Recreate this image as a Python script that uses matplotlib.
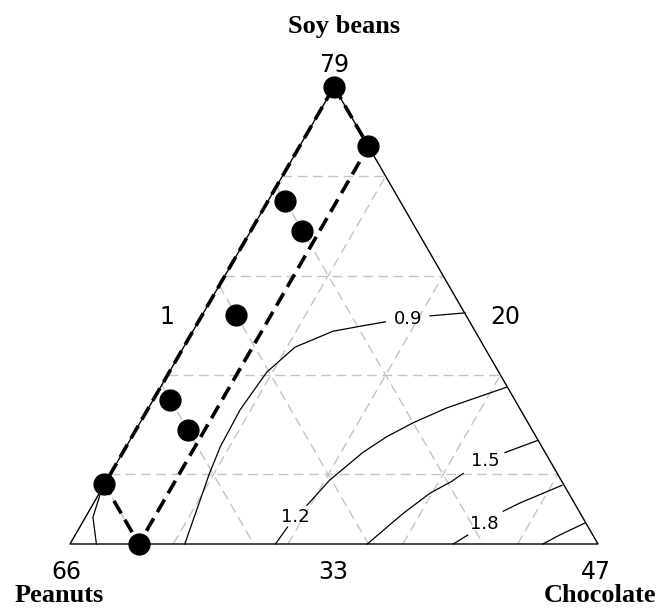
import numpy as np
import matplotlib.pyplot as plt

# Mixture: Soy beans + Peanuts + Chocolate = 100, each with a range of 46
soy_low, peanut_low, choc_low = 33, 20, 1
span = 46

# Design points (real units)
soy = [79, 73, 67.5, 64.5, 56, 47.5, 44.5, 39, 33]
peanuts = [20, 20, 30, 30, 40, 50, 50, 60, 60]
chocolate = [1, 7, 2.5, 5.5, 4, 2.5, 5.5, 1, 7]

# Constraint region corners (chocolate between 1 and 7)
region_soy = [79, 73, 33, 39, 79]
region_choc = [1, 7, 7, 1, 1]

# Grid levels
soy_grid = [40, 50, 60, 70]
peanut_grid = [30, 40, 50, 60]
choc_grid = [10, 20, 30, 40]

# Contour lines: (soy, chocolate) pairs, split at the label
contour_09 = [[(56.25, 23.8), (55.95, 20.9)],
              [(55.35, 17.3), (54.9, 15.3), (54.4, 13.2), (52.8, 10.7), (50.3, 9.5),
               (46.5, 9.07), (42.8, 9.2), (40.1, 9.6), (33, 11.0)]]
contour_12 = [[(48.8, 31.2), (46.7, 27.0), (45.2, 24.8), (43.8, 23.2), (42.2, 21.9),
               (39.4, 20.4), (36.9, 19.7)],
              [(34.7, 19.1), (33, 18.9)]]
contour_15 = [[(43.4, 36.5), (42.2, 34.3)],
              [(40.1, 31.7), (39.3, 31.1), (38.1, 29.8), (36.1, 28.5), (33, 26.9)]]
contour_18 = [[(38.9, 40.9), (37.1, 38.1), (36.3, 37.1)],
              [(33.9, 35.2), (33, 34.4)]]
contour_21 = [[(35.1, 44.8), (33.9, 43.2), (33, 42.2)]]
contour_corner = [[(37.9, 1.15), (35.7, 1.65), (33, 3.3)]]

contours = [contour_09, contour_12, contour_15, contour_18, contour_21, contour_corner]
contour_labels = ['0.9', '1.2', '1.5', '1.8']
label_soy = [55.6, 35.7, 41.4, 35.0]
label_choc = [19.2, 19.3, 33.0, 36.1]


def to_xy(s_real, c_real):
    s = (np.asarray(s_real, dtype=float) - soy_low) / span
    c = (np.asarray(c_real, dtype=float) - choc_low) / span
    return c + s / 2, s * np.sqrt(3) / 2


fig = plt.figure(figsize=(6.59, 6.10), dpi=100)
ax = fig.add_axes([0, 0, 1, 1])
ax.set_xlim(-70 / 528, 589 / 528)
ax.set_ylim(-66 / 528, 544 / 528)
ax.axis('off')

grid_kw = dict(color='#c4c4c4', lw=1.0, dashes=(7, 4), zorder=1)
top = 100 - peanut_low - choc_low
for v in soy_grid:
    x, y = to_xy([v, v], [choc_low, 100 - v - peanut_low])
    ax.plot(x, y, **grid_kw)
for v in choc_grid:
    x, y = to_xy([soy_low, 100 - v - peanut_low], [v, v])
    ax.plot(x, y, **grid_kw)
for v in peanut_grid:
    x, y = to_xy([100 - v - choc_low, soy_low], [choc_low, 100 - v - soy_low])
    ax.plot(x, y, **grid_kw)

# triangle outline
tx, ty = to_xy([top, soy_low, soy_low, top], [choc_low, choc_low, 100 - soy_low - peanut_low, choc_low])
ax.plot(tx, ty, color='black', lw=1.0, zorder=2)

# contours
for c in contours:
    for piece in c:
        s_vals = [p[0] for p in piece]
        c_vals = [p[1] for p in piece]
        x, y = to_xy(s_vals, c_vals)
        ax.plot(x, y, color='black', lw=0.9, zorder=3)
lx, ly = to_xy(label_soy, label_choc)
for t, x, y in zip(contour_labels, lx, ly):
    ax.text(x, y, t, ha='center', va='center', fontsize=13, family='DejaVu Sans', zorder=4)

# constraint region
rx, ry = to_xy(region_soy, region_choc)
ax.plot(rx, ry, color='black', lw=2.6, dashes=(4, 2), zorder=5)

# design points
px, py = to_xy(soy, chocolate)
ax.plot(px, py, 'o', color='black', ms=15, zorder=6)

# axis labels
num_kw = dict(ha='center', va='center', fontsize=17, family='DejaVu Sans')
name_kw = dict(ha='center', va='center', fontsize=19, family='Liberation Serif', weight='bold')
h = np.sqrt(3) / 2
ax.text(0.5, h + 0.041, str(soy_low + span), **num_kw)
ax.text(0.519, h + 0.115, 'Soy beans', **name_kw)
ax.text(-0.006, -0.053, str(peanut_low + span), **num_kw)
ax.text(-0.021, -0.097, 'Peanuts', **name_kw)
ax.text(0.996, -0.053, str(choc_low + span), **num_kw)
ax.text(1.004, -0.097, 'Chocolate', **name_kw)
ax.text(0.498, -0.053, str(soy_low), **num_kw)
ax.text(0.184, 0.430, str(choc_low), **num_kw)
ax.text(0.824, 0.430, str(peanut_low), **num_kw)

fig.savefig('out.png', dpi=100)
